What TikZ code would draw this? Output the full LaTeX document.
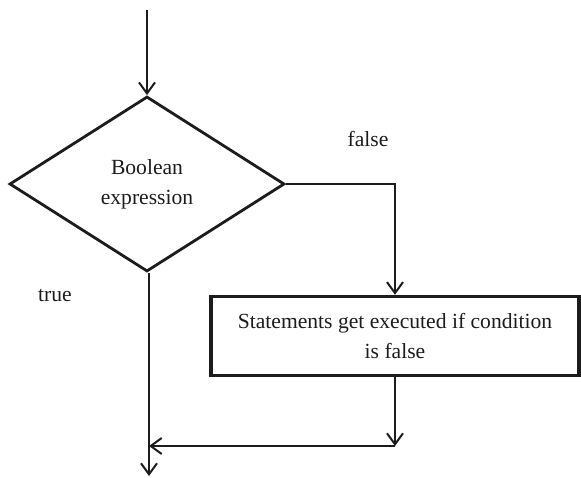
\documentclass[tikz,border=0pt]{standalone}
\usepackage{fontspec}
\setmainfont{Liberation Serif}
\usepackage{tikz}
\usetikzlibrary{positioning,shapes.geometric,arrows.meta}
\definecolor{lineColor}{RGB}{28,28,28}
\tikzstyle{flowChart} = [x = 1pt, y = -1pt, every node/.style={font=\fontsize{21.6}{30}\selectfont, text=lineColor}]
\tikzstyle{flowArrow} = [draw=lineColor, line width=2pt, -{Straight Barb[length=11pt, width=16pt]}]
\tikzstyle{decisionStyle} = [diamond, draw=lineColor, line width=2.8pt, align=center, inner sep=0pt, minimum width=275pt, minimum height=175pt]
\tikzstyle{statementStyle} = [rectangle, draw=lineColor, line width=3.4pt, align=center, inner sep=0pt, minimum width=368pt, minimum height=79pt]

\begin{document}
\begin{tikzpicture}[flowChart]
  \useasboundingbox (0,0) rectangle (581,477);
  % shapes
  \node [decisionStyle] (decision) at (147,184) {Boolean\\expression};
  \node [statementStyle] (statements) at (395,336) {Statements get executed if condition\\is false};
  % labels
  \node (trueLabel) at (55,296) {true};
  \node (falseLabel) at (368,139) {false};
  % free ends
  \coordinate (start) at (147,10);
  \coordinate (exit) at (149,476);
  \coordinate (join) at (149,446);
  \coordinate (merge) at (statements.south |- join);
  % connectors
  \draw [flowArrow] (start) -- (decision.north);
  \draw [flowArrow] (decision.east) -| (statements.north);
  \draw [flowArrow] (statements.south) -- (merge);
  \draw [flowArrow] (merge) -- (join);
  \draw [flowArrow] (decision.south -| exit) -- (exit);
\end{tikzpicture}
\end{document}
